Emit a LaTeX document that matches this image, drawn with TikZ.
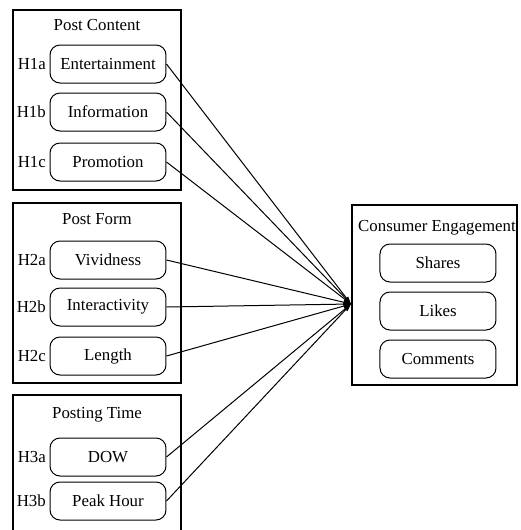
\documentclass[tikz,border=0pt]{standalone}
\usepackage{fontspec}
\setmainfont{Liberation Serif}
\usetikzlibrary{arrows.meta}

\begin{document}
\begin{tikzpicture}[
  x=0.6pt, y=-0.6pt,
  font=\fontsize{10.1}{12}\selectfont,
  groupbox/.style={
    draw,
    line width=0.7pt,
    minimum width=100.8pt,
    minimum height=108pt,
    inner sep=0pt
  },
  itemnode/.style={
    draw,
    line width=0.6pt,
    rounded corners=6pt,
    minimum width=69.6pt,
    minimum height=22.8pt,
    inner sep=0pt
  },
  every label/.style={inner sep=2pt},
  label distance=0pt,
  link/.style={-{Triangle[length=4.5pt,width=2.6pt]}, line width=0.6pt}
]
\clip (0,0) rectangle (521,530);

% Groups of predictors
\node[groupbox] (content) at (97,100) {};
\node[groupbox] (form) at (97,293) {};
\node[groupbox] (time) at (97,485) {};
\node[groupbox, minimum width=99pt] (engage) at (434.5,295) {};

\node (contenttitle) at (97,25) {Post Content};
\node (formtitle) at (97,219) {Post Form};
\node (timetitle) at (97,415) {Posting Time};
\node (engagetitle) at (437,228) {Consumer Engagement};

% Predictor items
\node[itemnode,label=left:H1a] (ent) at (108,64) {Entertainment};
\node[itemnode,label=left:H1b] (info) at (108,112) {Information};
\node[itemnode,label=left:H1c] (promo) at (108,162) {Promotion};

\node[itemnode,label=left:H2a] (vivid) at (108,260) {Vividness};
\node[itemnode,label=left:H2b] (inter) at (108,307) {Interactivity};
\node[itemnode,label=left:H2c] (length) at (108,356) {Length};

\node[itemnode,label=left:H3a] (dow) at (108,457) {DOW};
\node[itemnode,label=left:H3b] (peak) at (108,501) {Peak Hour};

% Engagement items
\node[itemnode] (shares) at (438,263) {Shares};
\node[itemnode] (likes) at (438,311) {Likes};
\node[itemnode] (comments) at (438,359) {Comments};

% Hypothesised paths
\coordinate (hub) at (351,304);
\foreach \src in {ent,info,promo,vivid,inter,length,dow,peak}
  \draw[link] (\src.east) -- (hub);
\end{tikzpicture}
\end{document}
